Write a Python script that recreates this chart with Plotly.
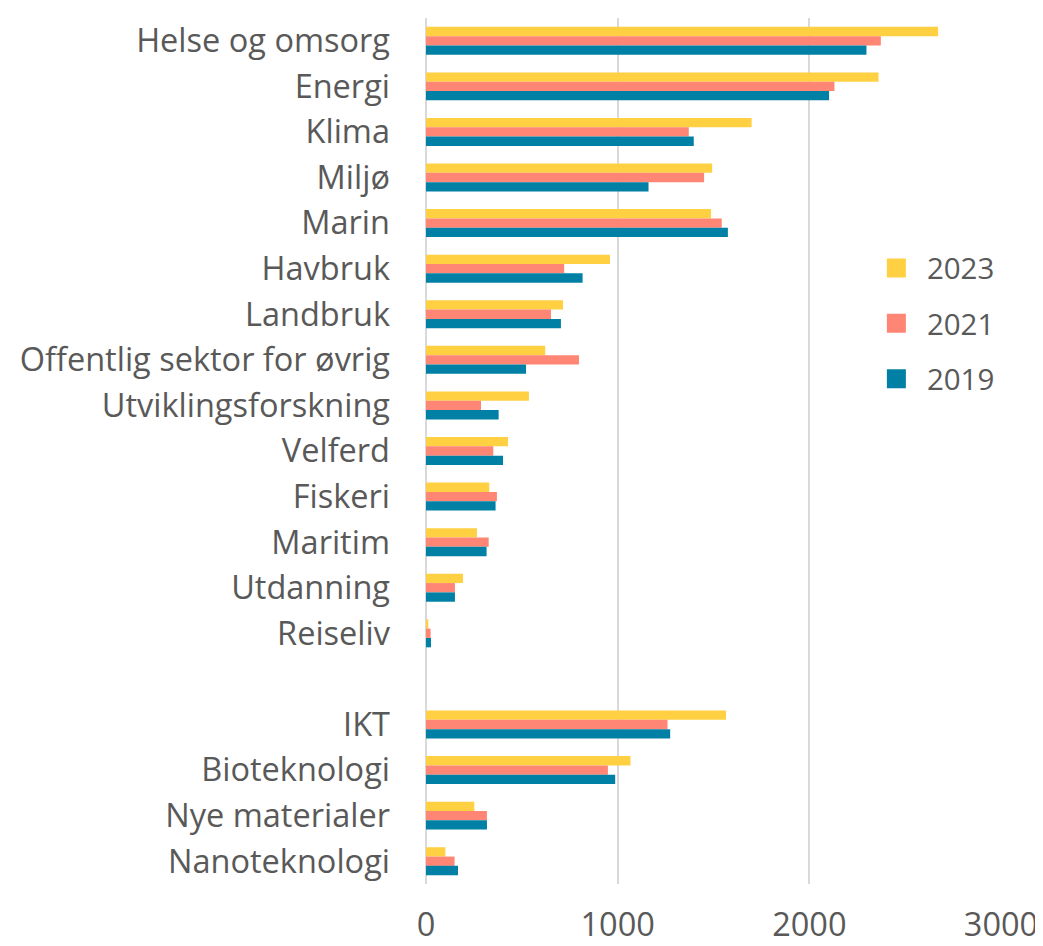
import plotly.graph_objects as go

categories = ["Helse og omsorg", "Energi", "Klima", "Miljø", "Marin", "Havbruk",
              "Landbruk", "Offentlig sektor for øvrig", "Utviklingsforskning",
              "Velferd", "Fiskeri", "Maritim", "Utdanning", "Reiseliv", " ",
              "IKT", "Bioteknologi", "Nye materialer", "Nanoteknologi"]

v2023 = [2672, 2361, 1699, 1493, 1487, 960, 715, 622, 537, 428, 330, 266, 193, 12, None,
         1565, 1067, 252, 101]
v2021 = [2373, 2131, 1371, 1451, 1543, 721, 652, 798, 287, 351, 370, 327, 151, 24, None,
         1260, 949, 318, 149]
v2019 = [2298, 2103, 1397, 1161, 1575, 817, 704, 522, 379, 402, 363, 316, 151, 26, None,
         1274, 987, 318, 167]

series = [("2023", v2023, "#FFD042"), ("2021", v2021, "#FF8574"), ("2019", v2019, "#0080A5")]
tick_vals = [0, 1000, 2000, 3000]

FONT = "Open Sans, sans-serif"
TXT = "#595959"
FS = 32.5

fig = go.Figure()
for name, vals, col in series:
    fig.add_trace(go.Bar(
        y=categories, x=vals, name=name, orientation="h",
        marker=dict(color=col, line=dict(width=0)),
        legendgroup=name, showlegend=False,
    ))
    # legend swatch (larger square than the default bar swatch)
    fig.add_trace(go.Scatter(
        x=[None], y=[None], mode="markers", name=name, legendgroup=name,
        marker=dict(symbol="square", size=21, color=col,
                    line=dict(width=3, color=col)),
        showlegend=True, hoverinfo="skip",
    ))

fig.update_layout(
    width=1035, height=938,
    margin=dict(l=418, r=42, t=10, b=62, autoexpand=False),
    paper_bgcolor="white", plot_bgcolor="white",
    barmode="group", bargap=0.386, bargroupgap=0,
    font=dict(family=FONT, color=TXT, size=FS),
    legend=dict(x=0.765, y=0.741, xanchor="left", yanchor="top",
                traceorder="grouped", tracegroupgap=14,
                font=dict(size=29.5, color=TXT), bgcolor="rgba(0,0,0,0)",
                itemwidth=51, itemsizing="trace"),
    xaxis=dict(range=[0, 3000], tickvals=tick_vals, showgrid=True,
               gridcolor="#D9D9D9", gridwidth=2, zeroline=True,
               zerolinecolor="#D9D9D9", zerolinewidth=2, showline=False,
               ticks="", ticklabelstandoff=18, automargin=False,
               tickfont=dict(size=FS, color=TXT)),
    yaxis=dict(categoryorder="array", categoryarray=categories,
               autorange="reversed", showgrid=False, ticks="",
               ticklabelstandoff=35, automargin=False,
               tickfont=dict(size=FS, color=TXT)),
)

fig.write_html("out.html")
